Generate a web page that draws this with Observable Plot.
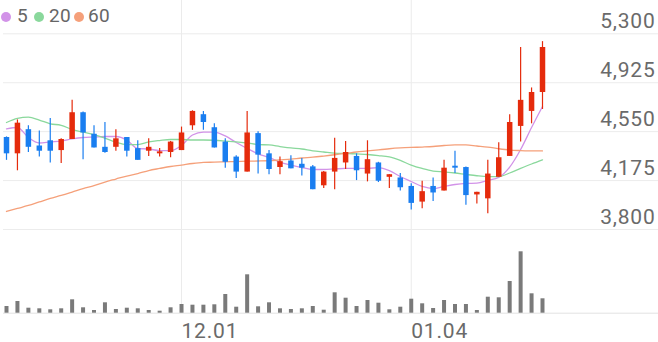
<!DOCTYPE html>
<html><head><meta charset="utf-8">
<script src="https://cdn.jsdelivr.net/npm/d3@7"></script>
<script src="https://cdn.jsdelivr.net/npm/@observablehq/plot@0.6"></script>
<style>
html,body{margin:0;padding:0;background:#fff;}
#wrap{position:relative;width:658px;height:342px;overflow:hidden;font-family:Roboto,sans-serif;}
#wrap svg{position:absolute;left:0;top:0;}
.dot{position:absolute;width:10px;height:10px;border-radius:50%;top:12px;}
.lab{position:absolute;top:5px;font-size:19px;line-height:22px;color:#666;letter-spacing:0.3px;}
</style></head><body><div id="wrap"></div>
<script>
// ---- data ----
const open  = [4505,4380,4565,4440,4480,4405,4490,4695,4530,4430,4430,4505,4420,4400,4380,4390,4405,4595,4680,4580,4470,4355,4240,4535,4380,4275,4325,4300,4280,4135,4240,4310,4360,4225,4310,4200,4195,4130,4010,4130,4095,4285,4275,4065,4035,4200,4360,4590,4705,4850];
const high  = [4510,4640,4595,4555,4650,4495,4790,4700,4595,4620,4565,4505,4480,4495,4420,4475,4585,4710,4705,4610,4495,4365,4705,4550,4405,4355,4365,4345,4290,4245,4500,4475,4380,4480,4315,4220,4230,4150,4170,4195,4330,4400,4280,4085,4330,4465,4680,5195,4885,5240];
const low   = [4330,4250,4390,4355,4310,4305,4490,4335,4425,4385,4400,4355,4330,4360,4355,4350,4405,4560,4560,4425,4270,4190,4240,4225,4220,4220,4265,4210,4105,4115,4105,4260,4175,4165,4160,4115,4095,3950,3960,4015,4095,4230,3985,3995,3920,4200,4360,4470,4610,4720];
const close = [4380,4615,4430,4400,4400,4490,4695,4540,4425,4390,4495,4400,4330,4430,4395,4470,4540,4705,4620,4425,4315,4240,4540,4370,4260,4320,4265,4270,4105,4240,4345,4390,4250,4335,4170,4220,4120,4000,4090,4080,4270,4270,4060,4085,4225,4350,4620,4790,4850,5195];
const volume = [67,117,50,44,34,44,134,54,27,104,37,50,44,27,20,54,87,80,80,84,187,60,384,64,104,44,37,44,67,30,204,150,67,127,100,34,60,140,94,47,127,87,87,27,160,154,317,614,194,144];
const ma5  = [4572,4582,4505,4463,4471,4478,4494,4505,4509,4513,4513,4486,4421,4417,4405,4405,4444,4524,4547,4547,4517,4467,4421,4380,4352,4317,4294,4275,4260,4260,4264,4268,4268,4268,4275,4252,4206,4168,4130,4114,4130,4145,4153,4155,4176,4199,4278,4413,4582,4743];
const ma20 = [4620,4651,4661,4639,4610,4599,4566,4547,4528,4501,4469,4451,4451,4471,4482,4490,4490,4486,4486,4484,4478,4471,4463,4451,4448,4436,4425,4417,4402,4394,4386,4383,4379,4375,4367,4356,4329,4294,4268,4248,4241,4233,4222,4212,4206,4206,4233,4268,4302,4334];
const ma60 = [3938,3961,3984,4011,4038,4061,4087,4114,4137,4164,4187,4210,4229,4252,4268,4283,4294,4306,4314,4316,4319,4321,4324,4325,4327,4333,4339,4348,4354,4363,4373,4383,4394,4402,4411,4419,4425,4429,4432,4436,4444,4449,4448,4440,4432,4419,4409,4405,4403,4402];
const maPeriods = [5, 20, 60];
const yTicks = [3800, 4175, 4550, 4925, 5300];
const xTickIndex = [16, 37];
const xTickLabels = ["12.01", "01.04"];

// ---- styles ----
const RED = "#e52b0c", BLUE = "#1a7ef0";
const maColors = ["#d293e8", "#8ad89c", "#f5a07a"];
const W = 658, H = 342;
const xOpt = {type: "linear", domain: [0, open.length - 1], range: [6, 542]};
const fontFam = "Roboto, sans-serif";

const candles = open.map((o, i) => ({i, o, h: high[i], l: low[i], c: close[i], up: close[i] >= o}));
const vols = volume.map((v, i) => ({i, v}));
const maRows = [ma5, ma20, ma60].flatMap((arr, k) => arr.map((v, i) => ({i, v, k})));

// volume panel (underneath)
const pVol = Plot.plot({
  width: W, height: H,
  marginLeft: 3, marginRight: 0, marginTop: 0, marginBottom: 29.3,
  style: {background: "transparent", fontFamily: fontFam, letterSpacing: "0.8px"},
  x: {...xOpt, axis: null},
  y: {domain: [0, 700], range: [312.7, 242.7], axis: null},
  marks: [
    Plot.ruleX(xTickIndex, {x: d => d, stroke: "#ebebeb", strokeWidth: 1}),
    Plot.ruleY([0], {stroke: "#e3e3e3", strokeWidth: 1}),
    Plot.ruleX(vols, {x: "i", y1: 0, y2: "v", stroke: "#7a7a7a", strokeWidth: 4}),
    Plot.text(xTickIndex, {x: d => d, text: (d, j) => xTickLabels[j], frameAnchor: "bottom",
      textAnchor: "start", lineAnchor: "bottom", dy: 24.5, fontSize: 21, fill: "#6a6a6a"})
  ]
});

// price panel (on top)
const pPrice = Plot.plot({
  width: W, height: H,
  marginLeft: 3, marginRight: 0, marginTop: 0, marginBottom: 29.3,
  style: {background: "transparent", fontFamily: fontFam, letterSpacing: "0.8px"},
  x: {...xOpt, axis: null},
  y: {domain: [3800, 5300], range: [229, 33.3], axis: null},
  marks: [
    Plot.ruleY(yTicks, {stroke: "#ececec", strokeWidth: 1}),
    Plot.line(maRows, {x: "i", y: "v", z: "k", stroke: d => maColors[d.k], strokeWidth: 1.3, curve: "monotone-x"}),
    Plot.ruleX(candles, {x: "i", y1: "l", y2: "h", stroke: d => d.up ? RED : BLUE, strokeWidth: 1.2}),
    Plot.ruleX(candles, {x: "i", y1: "o", y2: "c", stroke: d => d.up ? RED : BLUE, strokeWidth: 5.5}),
    Plot.text(yTicks, {y: d => d, text: d => d3.format(",")(d), frameAnchor: "right",
      textAnchor: "end", lineAnchor: "bottom", dx: -3, dy: -6, fontSize: 21, fill: "#6a6a6a"})
  ]
});

const wrap = document.getElementById("wrap");
wrap.appendChild(pVol);
wrap.appendChild(pPrice);

// legend
const dotLeft = [1, 34, 74], labLeft = [17, 49, 88];
maPeriods.forEach((p, k) => {
  const d = document.createElement("div");
  d.className = "dot"; d.style.left = dotLeft[k] + "px"; d.style.background = maColors[k];
  wrap.appendChild(d);
  const t = document.createElement("div");
  t.className = "lab"; t.style.left = labLeft[k] + "px"; t.textContent = p;
  wrap.appendChild(t);
});
</script></body></html>
